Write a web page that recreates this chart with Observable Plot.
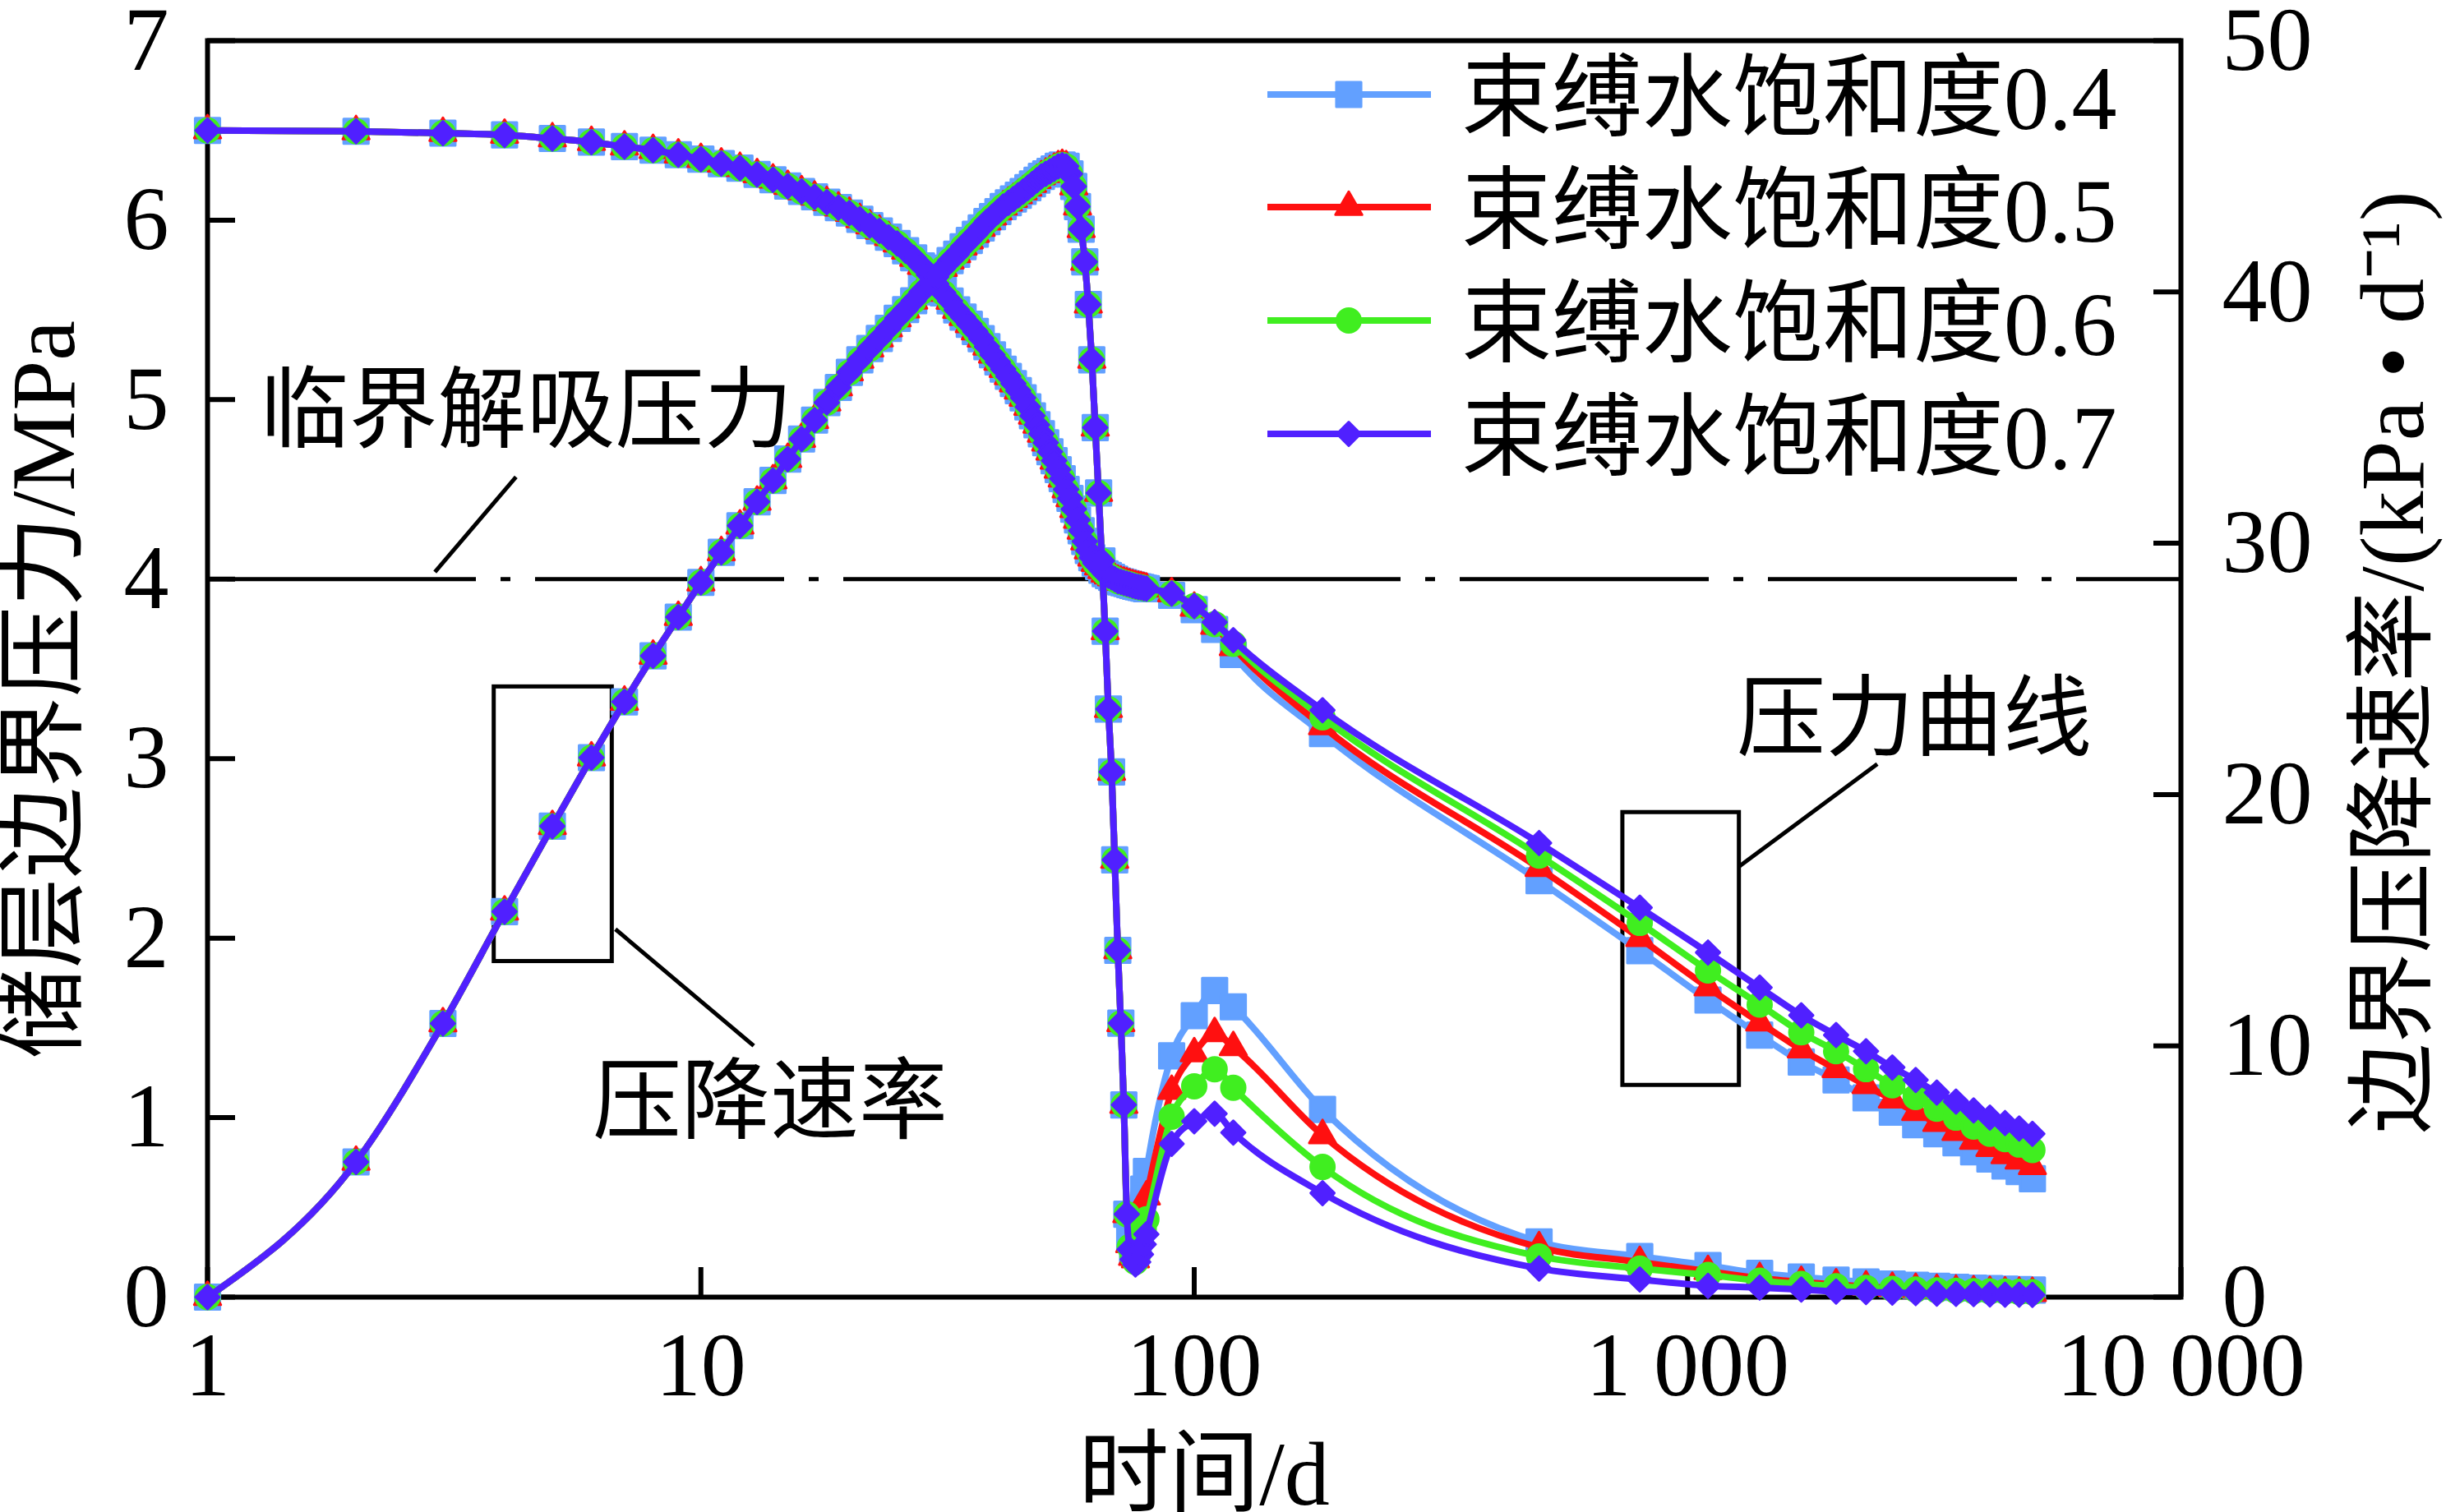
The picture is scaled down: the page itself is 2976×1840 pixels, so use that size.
<!DOCTYPE html>
<html>
<head>
<meta charset="utf-8">
<script src="https://cdn.jsdelivr.net/npm/d3@7"></script>
<script src="https://cdn.jsdelivr.net/npm/@observablehq/plot@0.6"></script>
<style>
html, body { margin: 0; padding: 0; background: #fff; }
#wrap { position: relative; width: 2976px; height: 1840px; }
#legend { position: absolute; left: 0; top: 0; pointer-events: none; }
</style>
</head>
<body>
<div id="wrap"></div>
<script>
// ---------- data ----------
const seriesNames = ["束缚水饱和度0.4", "束缚水饱和度0.5", "束缚水饱和度0.6", "束缚水饱和度0.7"];
const seriesColors = ["#62A0FF", "#FF1010", "#40EE20", "#5020FF"];
const seriesSymbols = ["square", "triangle", "circle", "diamond2"];
const symbolRadius = [17, 12, 14.5, 13];

// time (d) – daily steps (curves of all four cases coincide here)
const sharedDays = [1,2,3,4,5,6,7,8,9,10,11,12,13,14,15,16,17,18,19,20,
  21,22,23,24,25,26,27,28,29,30,31,32,33,34,35,36,37,38,39,40,
  41,42,43,44,45,46,47,48,49,50,51,52,53,54,55,56,57,58,59,60,
  61,62,63,64,65,66,67,68,69,70,71,72,73,74,75,76,77,78,79,80];
const lateDays = [90,100,110,120,182,500,800,1100,1400,1700,2000,2300,2600,2900,3200,3500,3800,4100,4400,4700,5000];

// reservoir boundary pressure (MPa), days 1–80, common to all cases
const pressureShared = [6.50,6.495,6.485,6.475,6.455,6.435,6.41,6.39,6.365,6.34,
  6.315,6.29,6.255,6.225,6.19,6.16,6.13,6.10,6.07,6.04,
  6.005,5.97,5.94,5.905,5.87,5.83,5.79,5.745,5.695,5.645,
  5.595,5.55,5.50,5.46,5.42,5.38,5.34,5.295,5.25,5.21,
  5.17,5.13,5.09,5.05,5.01,4.96,4.91,4.86,4.81,4.76,
  4.71,4.66,4.61,4.56,4.50,4.45,4.39,4.33,4.27,4.21,
  4.16,4.12,4.09,4.07,4.05,4.03,4.02,4.01,4.00,3.99,
  3.985,3.98,3.975,3.97,3.965,3.96,3.957,3.954,3.95,3.947];
// pressure (MPa) on lateDays
const pressureLate04 = [3.91,3.83,3.72,3.58,3.14,2.32,1.93,1.655,1.46,1.31,1.21,1.11,1.03,0.96,0.91,0.86,0.81,0.77,0.73,0.70,0.66];
const pressureLate05 = [3.92,3.84,3.74,3.62,3.18,2.39,2.00,1.725,1.53,1.38,1.27,1.18,1.10,1.03,0.97,0.92,0.87,0.83,0.79,0.76,0.73];
const pressureLate06 = [3.92,3.85,3.75,3.64,3.23,2.46,2.085,1.82,1.63,1.475,1.37,1.27,1.18,1.115,1.05,1.00,0.95,0.91,0.88,0.85,0.82];
const pressureLate07 = [3.92,3.85,3.76,3.66,3.27,2.53,2.17,1.92,1.725,1.57,1.46,1.37,1.28,1.21,1.14,1.09,1.04,1.00,0.97,0.94,0.91];

// boundary pressure-drop rate (kPa/d), days 1–73, common to all cases
const rateShared = [0,5.38,10.89,15.34,18.74,21.47,23.69,25.52,27.06,28.44,
  29.64,30.7,31.65,32.5,33.35,34.15,34.9,35.6,36.2,36.8,
  37.3,37.75,38.15,38.55,38.95,39.3,39.65,40.0,40.3,40.6,
  40.95,41.25,41.5,41.8,42.05,42.3,42.55,42.8,43.0,43.2,
  43.4,43.55,43.7,43.85,44.0,44.15,44.3,44.45,44.6,44.7,
  44.8,44.9,45.0,45.05,45.0,44.7,44.2,43.4,42.5,41.2,
  39.5,37.3,34.6,32.0,29.3,26.5,23.4,20.9,17.4,13.8,
  10.9,7.65,3.3];
const rateLateDays = [74,75,76,77,78,79,80,90,100,110,120,182,500,800,1100,1400,1700,2000,2300,2600,2900,3200,3500,3800,4100,4400,4700,5000];
const rateLate04 = [2.3,1.8,1.7,2.3,3.3,4.3,5.0,9.6,11.2,12.2,11.55,7.47,2.2,1.62,1.26,0.95,0.8,0.68,0.6,0.52,0.47,0.43,0.39,0.36,0.34,0.32,0.3,0.28];
const rateLate05 = [2.1,1.6,1.5,2.0,2.8,3.5,4.0,8.2,9.7,10.5,9.94,6.44,1.98,1.39,1.03,0.75,0.6,0.5,0.42,0.36,0.32,0.28,0.25,0.22,0.2,0.18,0.17,0.16];
const rateLate06 = [2.0,1.6,1.4,1.7,2.2,2.7,3.1,7.18,8.39,9.07,8.33,5.18,1.62,1.14,0.88,0.65,0.52,0.43,0.37,0.33,0.3,0.27,0.25,0.24,0.23,0.22,0.21,0.2];
const rateLate07 = [1.9,1.5,1.3,1.4,1.7,2.1,2.5,6.1,7.0,7.3,6.55,4.14,1.14,0.7,0.45,0.38,0.3,0.22,0.2,0.18,0.16,0.14,0.13,0.12,0.11,0.1,0.1,0.09];

const criticalPressure = 4; // MPa
const xTicks = [1, 10, 100, 1000, 10000];
const xTickLabels = ["1", "10", "100", "1 000", "10 000"];
const yTicks = [0, 1, 2, 3, 4, 5, 6, 7];
const rateTicks = [0, 10, 20, 30, 40, 50];
const rateMax = 50, pressureMax = 7;

// annotations (in data units: time d, pressure MPa)
const noteBoxes = [
  {t1: 3.81, t2: 6.61, p1: 1.87, p2: 3.40},
  {t1: 739, t2: 1273, p1: 1.18, p2: 2.70}
];
const noteLeaders = [
  {t1: 6.71, p1: 2.05, t2: 12.8, p2: 1.40},
  {t1: 1273, p1: 2.40, t2: 2424, p2: 2.97},
  {t1: 4.22, p1: 4.57, t2: 2.89, p2: 4.04}
];
const noteTexts = [
  {text: "临界解吸压力", t: 1.278, p: 4.93},
  {text: "压降速率", t: 6.03, p: 1.08},
  {text: "压力曲线", t: 1258, p: 3.215}
];

// ---------- build tables ----------
const pressureLate = [pressureLate04, pressureLate05, pressureLate06, pressureLate07];
const rateLate = [rateLate04, rateLate05, rateLate06, rateLate07];
const rateToMPa = pressureMax / rateMax;
const pressureRows = [], rateRows = [];
seriesNames.forEach((name, i) => {
  sharedDays.forEach((d, j) => pressureRows.push({series: name, i, day: d, value: pressureShared[j]}));
  lateDays.forEach((d, j) => pressureRows.push({series: name, i, day: d, value: pressureLate[i][j]}));
  rateShared.forEach((v, j) => rateRows.push({series: name, i, day: sharedDays[j], value: v}));
  rateLateDays.forEach((d, j) => rateRows.push({series: name, i, day: d, value: rateLate[i][j]}));
});

const FONT = '"Liberation Serif", "Noto Sans CJK SC", serif';
const marks = [
  Plot.ruleY([criticalPressure], {stroke: "black", strokeWidth: 5, strokeDasharray: "303 30 12 30", strokeDashoffset: 351}),
  Plot.frame({strokeWidth: 6}),
  Plot.axisX({ticks: xTicks, tickFormat: d => xTickLabels[xTicks.indexOf(d)], tickSize: -36, tickPadding: 77, strokeWidth: 6, fontSize: 110}),
  Plot.axisY({anchor: "left", ticks: yTicks, tickFormat: d => String(d), tickSize: -34, tickPadding: 81, strokeWidth: 6, fontSize: 110}),
  Plot.axisY({anchor: "right", ticks: rateTicks.map(v => v * rateToMPa), tickFormat: d => String(Math.round(d / rateToMPa)), tickSize: -34, tickPadding: 84, strokeWidth: 6, fontSize: 110}),
  Plot.rect(noteBoxes, {x1: "t1", x2: "t2", y1: "p1", y2: "p2", fill: "none", stroke: "black", strokeWidth: 5}),
  Plot.link(noteLeaders, {x1: "t1", y1: "p1", x2: "t2", y2: "p2", stroke: "black", strokeWidth: 5}),
  Plot.text(noteTexts, {x: "t", y: "p", text: "text", textAnchor: "start", fontSize: 108, fill: "black"}),
  Plot.text(["时间/d"], {frameAnchor: "bottom", textAnchor: "middle", lineAnchor: "middle", dx: 12, dy: 217, fontSize: 110, fill: "black"}),
  Plot.text(["储层边界压力/MPa"], {frameAnchor: "left", textAnchor: "middle", lineAnchor: "middle", rotate: -90, dx: -198, dy: 25, fontSize: 110, fill: "black"}),
  Plot.text(["边界压降速率/(kPa • d⁻¹)"], {frameAnchor: "right", textAnchor: "middle", lineAnchor: "middle", rotate: -90, dx: 259, dy: -8, fontSize: 110, fill: "black"})
];
seriesNames.forEach((name, i) => {
  const pr = pressureRows.filter(d => d.i === i);
  const rr = rateRows.filter(d => d.i === i);
  const c = seriesColors[i];
  marks.push(
    Plot.line(pr, {x: "day", y: "value", stroke: c, strokeWidth: 8, curve: "monotone-x", strokeLinejoin: "round"}),
    Plot.line(rr, {x: "day", y: d => d.value * rateToMPa, stroke: c, strokeWidth: 8, curve: "monotone-x", strokeLinejoin: "round"}),
    Plot.dot(pr, {x: "day", y: "value", symbol: seriesSymbols[i], r: symbolRadius[i], fill: c, stroke: c, strokeWidth: 3, strokeLinejoin: "round"}),
    Plot.dot(rr, {x: "day", y: d => d.value * rateToMPa, symbol: seriesSymbols[i], r: symbolRadius[i], fill: c, stroke: c, strokeWidth: 3, strokeLinejoin: "round"})
  );
});

const chart = Plot.plot({
  width: 2976,
  height: 1840,
  marginLeft: 252,
  marginRight: 323,
  marginTop: 49,
  marginBottom: 262,
  style: {fontFamily: FONT, fontSize: "110px", color: "black", background: "white", overflow: "visible"},
  x: {type: "log", domain: [1, 10000], axis: null},
  y: {domain: [0, pressureMax], axis: null},
  marks
});
const wrap = document.getElementById("wrap");
wrap.appendChild(chart);

// ---------- legend (overlay) ----------
const symbolMap = {square: d3.symbolSquare, triangle: d3.symbolTriangle, circle: d3.symbolCircle, diamond2: d3.symbolDiamond2};
const leg = d3.select(wrap).append("svg").attr("id", "legend").attr("width", 2976).attr("height", 1840)
  .style("font-family", FONT).style("font-size", "110px");
const legendRowY = [115, 252, 390, 528];
seriesNames.forEach((name, i) => {
  const y = legendRowY[i];
  const g = leg.append("g");
  g.append("line").attr("x1", 1542).attr("x2", 1741).attr("y1", y).attr("y2", y)
    .attr("stroke", seriesColors[i]).attr("stroke-width", 8);
  g.append("path").attr("transform", `translate(1641,${y})`)
    .attr("d", d3.symbol(symbolMap[seriesSymbols[i]], Math.PI * symbolRadius[i] * symbolRadius[i])())
    .attr("fill", seriesColors[i]).attr("stroke", seriesColors[i]).attr("stroke-width", 3).attr("stroke-linejoin", "round");
  g.append("text").attr("x", 1778).attr("y", y).attr("dy", "0.38em").attr("fill", "black").text(name);
});
</script>
</body>
</html>
